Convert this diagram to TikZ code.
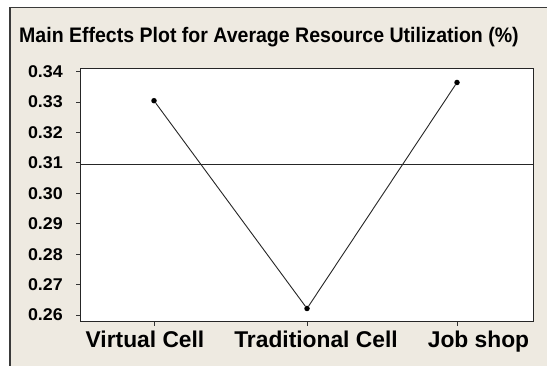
\documentclass[tikz,border=0pt]{standalone}
\usepackage{fontspec}
\setmainfont{Liberation Sans}
\usepackage{graphicx}
\definecolor{panelbg}{HTML}{EEEAE1}
\definecolor{framec}{HTML}{3A3A3A}
\tikzset{
  ticklab/.style={anchor=east, inner sep=0pt, font=\bfseries\fontsize{17}{20}\selectfont},
  catlab/.style={anchor=base, inner sep=0pt, font=\bfseries\fontsize{22.8}{26}\selectfont},
  dot/.style={circle, fill=black, inner sep=0pt, minimum size=5.5pt},
  series/.style={draw=black!85, line width=0.9pt},
  tickline/.style={draw=black!80, line width=0.9pt}
}
\begin{document}
\begin{tikzpicture}[x=1pt, y=-1pt]
\useasboundingbox (0,0) rectangle (547,366);
\clip (0,0) rectangle (547,366);
% panel
\fill[panelbg] (10,7.5) rectangle (560,380);
\draw[framec, line width=1.6pt] (10,380) -- (10,7.5) -- (560,7.5);
% title
\node[anchor=base west, inner sep=0pt, font=\bfseries\fontsize{21}{24}\selectfont] (title) at (19,43)
  {\scalebox{0.93}[1]{Main Effects Plot for Average Resource Utilization (\%)}};
% plot box
\draw[fill=white, draw=black!85, line width=1pt] (80,68.5) rectangle (533,322);
\coordinate (ml) at (80,164.1);
\coordinate (mr) at (533,164.1);
\draw[series] (ml) -- (mr);
% y ticks
\foreach \i in {26,...,34}{
  \pgfmathsetmacro{\yy}{102+(33-\i)*30.43}
  \coordinate (t\i) at (80,\yy);
  \coordinate (s\i) at (76,\yy);
  \draw[tickline] (s\i) -- (t\i);
  \node[ticklab] (l\i) at (63,\yy) {\scalebox{1.05}[1]{0.\i}};
}
% x ticks
\foreach \n/\xx in {a/154,b/307,c/457}{
  \coordinate (xt\n) at (\xx,322);
  \coordinate (xb\n) at (\xx,326);
  \draw[tickline] (xt\n) -- (xb\n);
}
% data
\node[dot] (vc) at (154,100.7) {};
\node[dot] (tc) at (307,308.5) {};
\node[dot] (js) at (457,82.5) {};
\draw[series] (vc) -- (tc) -- (js);
% category labels
\node[catlab] (cvc) at (145,348) {Virtual Cell};
\node[catlab] (ctc) at (316,348) {Traditional Cell};
\node[catlab] (cjs) at (478.5,348) {Job shop};
\end{tikzpicture}
\end{document}
